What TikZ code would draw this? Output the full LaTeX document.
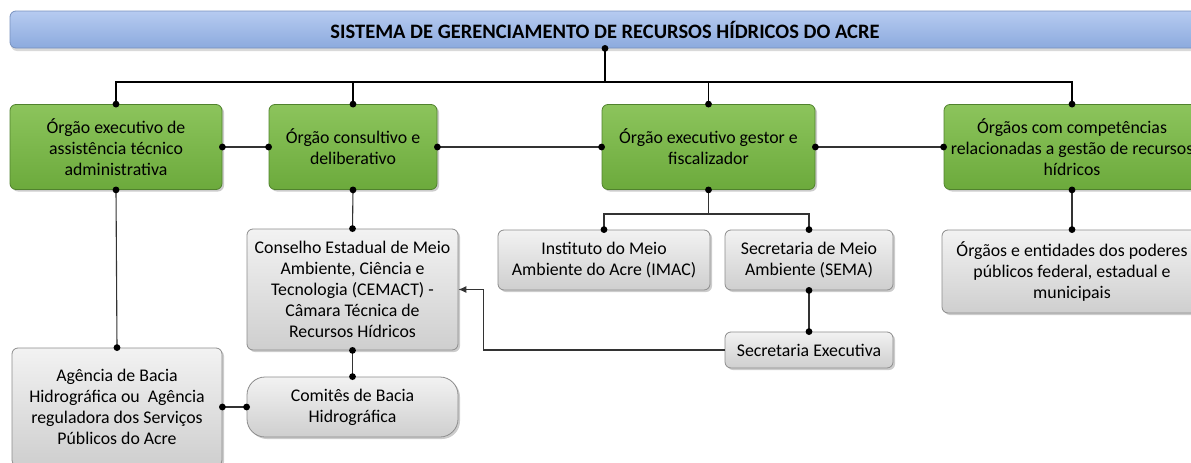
\documentclass[tikz,border=0pt]{standalone}
\usepackage{fontspec}
\setmainfont{Carlito}
\usetikzlibrary{shadows,arrows.meta}

\definecolor{leafTop}{RGB}{140,196,92}
\definecolor{leafBot}{RGB}{108,170,60}
\definecolor{leafLine}{RGB}{80,130,45}
\definecolor{skyTop}{RGB}{182,203,240}
\definecolor{skyBot}{RGB}{140,170,222}
\definecolor{skyLine}{RGB}{120,145,190}

\tikzset{
        greenbox/.style={draw=leafLine, line width=0.8pt, rounded corners=6pt,
                top color=leafTop, bottom color=leafBot,
                align=center, inner sep=2pt, font=\fontsize{17.8}{21}\selectfont,
                drop shadow={opacity=0.4, shadow xshift=2pt, shadow yshift=-2pt}},
        graybox/.style={draw=black!45, line width=0.8pt, rounded corners=6pt,
                top color=black!5, bottom color=black!19,
                align=center, inner sep=2pt, font=\fontsize{17.8}{21}\selectfont,
                drop shadow={opacity=0.4, shadow xshift=2pt, shadow yshift=-2pt}},
        link/.style={draw=black!80, line width=1.1pt},
}

\begin{document}
\begin{tikzpicture}[x=1pt,y=-1pt]
        \useasboundingbox (0,0) rectangle (1191,463);

        \node[draw=skyLine, line width=0.8pt, rounded corners=6pt,
                top color=skyTop, bottom color=skyBot,
                minimum width=1190pt, minimum height=37pt, inner sep=0pt,
                font=\bfseries\fontsize{20.5}{24}\selectfont,
                drop shadow={opacity=0.3, shadow xshift=1pt, shadow yshift=-3pt}]
                (title) at (605,29.5) {SISTEMA DE GERENCIAMENTO DE RECURSOS HÍDRICOS DO ACRE};

        \node[greenbox, minimum width=212pt, minimum height=85pt] (exec) at (116,147)
                {Órgão executivo de\\assistência técnico\\administrativa};
        \node[greenbox, minimum width=168pt, minimum height=85pt] (consult) at (353,147)
                {Órgão consultivo e\\deliberativo};
        \node[greenbox, minimum width=213pt, minimum height=85pt] (gestor) at (708.5,147)
                {Órgão executivo gestor e\\fiscalizador};
        \node[greenbox, minimum width=256pt, minimum height=85pt] (compet) at (1072,147)
                {Órgãos com competências\\relacionadas a gestão de recursos\\hídricos};

        \node[graybox, minimum width=211pt, minimum height=121pt] (cemact) at (352.5,289.5)
                {Conselho Estadual de Meio\\Ambiente, Ciência e\\Tecnologia (CEMACT) -\\Câmara Técnica de\\Recursos Hídricos};
        \node[graybox, rounded corners=18pt, minimum width=211pt, minimum height=60pt] (comites) at (352.5,407)
                {Comitês de Bacia\\Hidrográfica};
        \node[graybox, minimum width=210pt, minimum height=118pt] (agencia) at (117,407)
                {Agência de Bacia\\Hidrográfica ou\ \ Agência\\reguladora dos Serviços\\Públicos do Acre};
        \node[graybox, minimum width=212pt, minimum height=60pt] (imac) at (604,260)
                {Instituto do Meio\\Ambiente do Acre (IMAC)};
        \node[graybox, minimum width=168pt, minimum height=60pt] (sema) at (809,260)
                {Secretaria de Meio\\Ambiente (SEMA)};
        \node[graybox, minimum width=168pt, minimum height=36pt] (secexec) at (809,350)
                {Secretaria Executiva};
        \node[graybox, minimum width=260pt, minimum height=83pt] (entidades) at (1072,271.5)
                {Órgãos e entidades dos poderes\\públicos federal, estadual e\\municipais};

        \coordinate (bus) at (605,82);
        \coordinate (fork) at (708.5,214);
        \coordinate (turn) at ([xshift=25pt]cemact.east);

        \draw[line width=1.1pt] (title.south) -- (bus);
        \draw[line width=1.1pt] (exec.north) |- (bus) -| (compet.north);
        \draw[line width=1.1pt] (consult.north) -- (consult.north |- bus);
        \draw[line width=1.1pt] (gestor.north) -- (gestor.north |- bus);

        \draw[link] (exec.east) -- (consult.west);
        \draw[link] (consult.east) -- (gestor.west);
        \draw[link] (gestor.east) -- (compet.west);

        \draw[link] (exec.south) -- (agencia.north);
        \draw[link] (consult.south) -- (cemact.north);
        \draw[link] (cemact.south) -- (comites.north);
        \draw[link] (agencia.east) -- (comites.west);
        \draw[link] (gestor.south) -- (fork);
        \draw[link] (imac.north) |- (fork) -| (sema.north);
        \draw[link] (sema.south) -- (secexec.north);
        \draw[link] (compet.south) -- (entidades.north);
        \draw[link, -{Latex[length=8pt,width=7pt]}] (secexec.west) -| (turn) -- (cemact.east);

        \foreach \p in {title.south, exec.north, consult.north, gestor.north, compet.north,
                exec.east, consult.west, consult.east, gestor.west, gestor.east, compet.west,
                exec.south, agencia.north, consult.south, cemact.north, cemact.south, comites.north,
                agencia.east, comites.west, gestor.south, imac.north, sema.north,
                sema.south, secexec.north, compet.south, entidades.north}
                \fill (\p) circle (3.4);
\end{tikzpicture}
\end{document}
